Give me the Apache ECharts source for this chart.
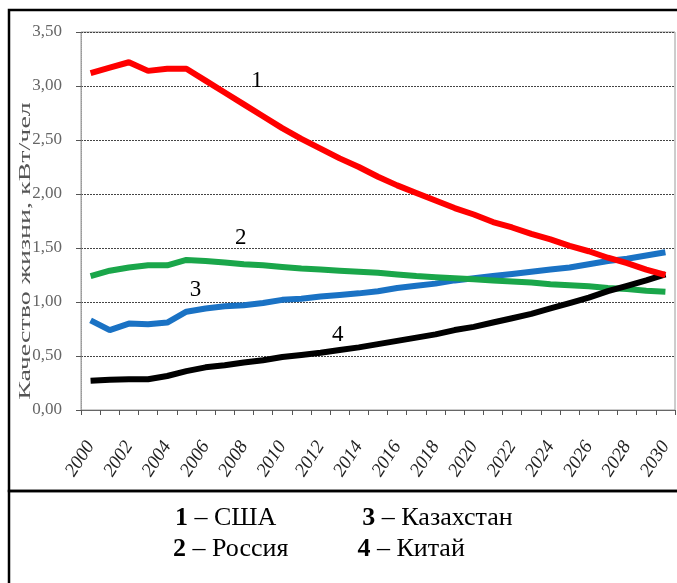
<!DOCTYPE html>
<html>
<head>
<meta charset="utf-8">
<script src="https://cdn.jsdelivr.net/npm/echarts@6/dist/echarts.min.js"></script>
<style>
  html, body { margin: 0; padding: 0; background: #fff; }
  #chart { width: 677px; height: 583px; }
</style>
</head>
<body>
<div id="chart"></div>
<script>
const years = ['2000', '2001', '2002', '2003', '2004', '2005', '2006', '2007', '2008', '2009',
  '2010', '2011', '2012', '2013', '2014', '2015', '2016', '2017', '2018', '2019',
  '2020', '2021', '2022', '2023', '2024', '2025', '2026', '2027', '2028', '2029', '2030']
const usa = [3.12, 3.17, 3.22, 3.14, 3.16, 3.16, 3.05, 2.94, 2.83, 2.72, 2.61, 2.51, 2.42, 2.33, 2.25, 2.16,
  2.08, 2.01, 1.94, 1.87, 1.81, 1.74, 1.69, 1.63, 1.58, 1.52, 1.47, 1.41, 1.36, 1.30, 1.25]
const russia = [1.24, 1.29, 1.32, 1.34, 1.34, 1.39, 1.38, 1.365, 1.35, 1.34, 1.325, 1.31, 1.30, 1.29, 1.28, 1.27,
  1.255, 1.24, 1.23, 1.22, 1.21, 1.20, 1.19, 1.18, 1.165, 1.155, 1.145, 1.13, 1.12, 1.105, 1.095]
const kazakhstan = [0.83, 0.74, 0.80, 0.795, 0.81, 0.91, 0.94, 0.96, 0.97, 0.99, 1.02, 1.03, 1.05, 1.065, 1.08, 1.10,
  1.13, 1.15, 1.17, 1.20, 1.22, 1.24, 1.26, 1.28, 1.30, 1.32, 1.35, 1.38, 1.40, 1.43, 1.46]
const china = [0.27, 0.28, 0.285, 0.285, 0.315, 0.36, 0.395, 0.415, 0.44, 0.46, 0.49, 0.51, 0.53, 0.555, 0.58, 0.61,
  0.64, 0.67, 0.70, 0.74, 0.77, 0.81, 0.85, 0.89, 0.94, 0.99, 1.04, 1.10, 1.15, 1.20, 1.255]

const names = ['США', 'Россия', 'Казахстан', 'Китай']
const colors = ['#ff0000', '#1aa64a', '#1a72c4', '#000000']
// where the curve numbers sit: [category, value, x offset]
const tags = [['2009', 3.05, -6], ['2008', 1.59, -3], ['2006', 1.11, -10], ['2013', 0.695, -2]]

const serif = 'Liberation Serif'

function makeSeries(i, data) {
  return {
    name: names[i],
    type: 'line',
    data: data,
    symbol: 'none',
    lineStyle: {width: 6, color: colors[i]},
    itemStyle: {color: colors[i]},
    markPoint: {
      symbol: 'circle',
      symbolSize: 0,
      silent: true,
      data: [{coord: [tags[i][0], tags[i][1]]}],
      label: {
        show: true,
        position: 'inside',
        offset: [tags[i][2], 0],
        formatter: String(i + 1),
        fontFamily: serif,
        fontSize: 23,
        color: '#000'
      }
    }
  }
}

function legendFormatter(name) {
  return '{n|' + (names.indexOf(name) + 1) + '} – ' + name
}

const legendText = {
  fontFamily: serif,
  fontSize: 26,
  color: '#000',
  rich: {
    n: {fontFamily: serif, fontSize: 26, fontWeight: 'bold', color: '#000'}
  }
}

const chart = echarts.init(document.getElementById('chart'))
chart.setOption({
  animation: false,
  grid: {
    left: 81,
    right: 2,
    top: 32,
    bottom: 173,
    show: true,
    borderColor: '#9a9a9a',
    borderWidth: 1
  },
  legend: [
    {
      data: ['США', 'Казахстан'],
      left: 165,
      top: 500,
      itemWidth: 0,
      itemHeight: 0,
      itemGap: 81,
      icon: 'none',
      formatter: legendFormatter,
      textStyle: legendText
    },
    {
      data: ['Россия', 'Китай'],
      left: 163,
      top: 531,
      itemWidth: 0,
      itemHeight: 0,
      itemGap: 64,
      icon: 'none',
      formatter: legendFormatter,
      textStyle: legendText
    }
  ],
  xAxis: {
    type: 'category',
    data: years,
    boundaryGap: true,
    axisLine: {lineStyle: {color: '#666', width: 1}},
    axisTick: {show: true, interval: 0, length: 5, lineStyle: {color: '#555'}},
    axisLabel: {
      interval: 1,
      rotate: 57,
      margin: 33,
      fontFamily: serif,
      fontStyle: 'italic',
      fontSize: 19,
      color: '#222'
    },
    splitLine: {show: false}
  },
  yAxis: {
    type: 'value',
    min: 0,
    max: 3.5,
    interval: 0.5,
    axisLine: {show: true, lineStyle: {color: '#999', type: 'dotted'}},
    axisTick: {show: true, length: 5, lineStyle: {color: '#555'}},
    axisLabel: {
      margin: 19,
      fontFamily: serif,
      fontSize: 17,
      color: '#666',
      formatter: v => v.toFixed(2).replace('.', ',')
    },
    splitLine: {lineStyle: {color: '#444', type: [2, 1], width: 1}}
  },
  graphic: [
    {
      type: 'rect',
      shape: {x: 9, y: 10, width: 700, height: 481},
      style: {fill: 'none', stroke: '#000', lineWidth: 2.5},
      silent: true
    },
    {
      type: 'rect',
      shape: {x: 9, y: 491, width: 700, height: 120},
      style: {fill: 'none', stroke: '#000', lineWidth: 2.5},
      silent: true
    },
    {
      type: 'text',
      x: 26,
      y: 251,
      rotation: Math.PI / 2,
      scaleX: 1.75,
      style: {
        text: 'Качество жизни, кВт/чел',
        fontFamily: serif,
        fontSize: 16,
        fill: '#555',
        align: 'center',
        verticalAlign: 'middle'
      },
      silent: true
    }
  ],
  series: [
    makeSeries(2, kazakhstan),
    makeSeries(1, russia),
    makeSeries(3, china),
    makeSeries(0, usa)
  ]
})
</script>
</body>
</html>
